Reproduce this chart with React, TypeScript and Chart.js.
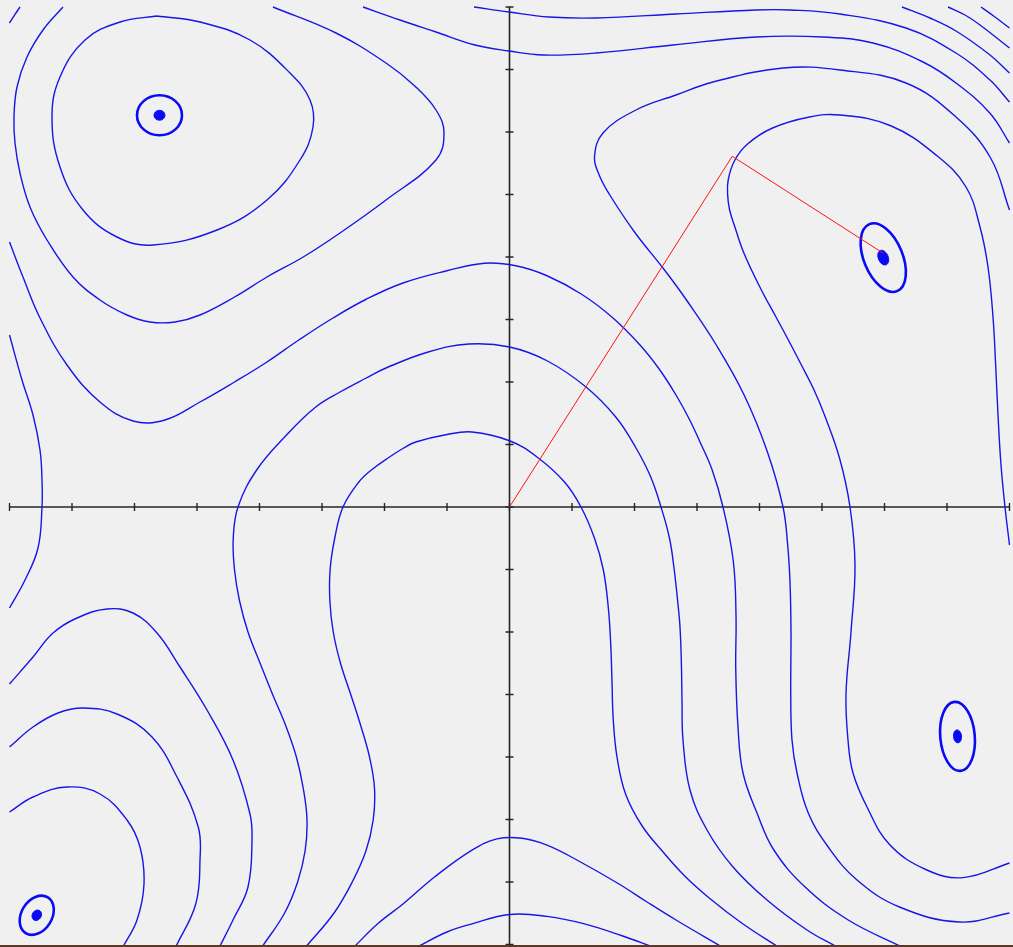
import React, { useEffect, useRef } from "react";
import { Chart, registerables } from "chart.js";

Chart.register(...registerables);

// ---- plot window (data units) ----
const X_RANGE = [-4.076, 4.028];
const Y_RANGE = [-3.52, 4.056];
const X_AXIS_SPAN = [-4, 4];
const Y_AXIS_SPAN = [-3.52, 4];
const X_TICKS = [-4, -3.5, -3, -2.5, -2, -1.5, -1, -0.5, 0, 0.5, 1, 1.5, 2, 2.5, 3, 3.5, 4];
const Y_TICKS = [-3.5, -3, -2.5, -2, -1.5, -1, -0.5, 0, 0.5, 1, 1.5, 2, 2.5, 3, 3.5, 4];

type Pt = [number, number];

// ---- contour pieces ----
const level31TopLeft: Pt[] = [[-2.82,3.928],[-2.476,3.88],[-2.076,3.736],[-1.756,3.472],[-1.596,3.256],[-1.572,3.04],[-1.676,2.776],[-1.94,2.456],[-2.34,2.216],[-2.852,2.096],[-3.14,2.16],[-3.412,2.376],[-3.596,2.72],[-3.66,3.12],[-3.596,3.44],[-3.396,3.736],[-3.116,3.88],[-2.82,3.928]];
const level31Right: Pt[] = [[4.0,-0.304],[3.964,0],[3.932,0.336],[3.908,0.736],[3.89,1.12],[3.868,1.52],[3.828,1.92],[3.764,2.24],[3.652,2.56],[3.42,2.81],[3.05,3.05],[2.644,3.136],[2.4,3.12],[2.1,3.03],[1.9,2.9],[1.8,2.77],[1.75,2.62],[1.745,2.5],[1.76,2.38],[1.8,2.25],[1.875,2.032],[2.015,1.736],[2.132,1.52],[2.25,1.3],[2.335,1.136],[2.43,0.95],[2.52,0.736],[2.64,0.392],[2.724,0],[2.764,-0.464],[2.732,-1.0],[2.692,-1.496],[2.708,-1.864],[2.748,-2.128],[2.86,-2.4],[3.04,-2.7],[3.33,-2.9],[3.628,-2.965],[4.0,-2.848]];
const level31BottomLeft: Pt[] = [[-4.0,-2.44],[-3.812,-2.32],[-3.54,-2.24],[-3.276,-2.296],[-3.06,-2.504],[-2.956,-2.72],[-2.924,-3.016],[-2.98,-3.304],[-3.092,-3.52]];

const level62TopLeft: Pt[] = [[-3.572,4.0],[-3.732,3.816],[-3.86,3.6],[-3.94,3.36],[-3.964,3.12],[-3.956,2.912],[-3.916,2.672],[-3.836,2.4],[-3.7,2.136],[-3.492,1.84],[-3.276,1.656],[-3.06,1.536],[-2.876,1.48],[-2.676,1.48],[-2.476,1.536],[-2.2,1.68],[-1.94,1.84],[-1.65,2.0],[-1.356,2.192],[-0.988,2.456],[-0.588,2.776],[-0.524,2.992],[-0.588,3.176],[-0.76,3.37],[-0.988,3.552],[-1.388,3.792],[-1.892,4.0]];
const level62Right: Pt[] = [[4.0,2.376],[3.85,2.79],[3.572,3.12],[3.172,3.392],[2.644,3.496],[2.188,3.512],[1.628,3.4],[1.332,3.296],[1.012,3.176],[0.748,2.992],[0.68,2.8],[0.72,2.65],[0.8,2.5],[1.0,2.2],[1.237,1.9],[1.42,1.65],[1.652,1.3],[1.875,0.9],[2.06,0.45],[2.188,0],[2.225,-0.3],[2.244,-0.6],[2.252,-1.0],[2.25,-1.5],[2.26,-1.864],[2.3,-2.128],[2.39,-2.448],[2.55,-2.72],[2.78,-2.984],[3.12,-3.2],[3.6,-3.32],[4.0,-3.248]];
const level62BottomLeft: Pt[] = [[-4.0,-1.92],[-3.812,-1.76],[-3.612,-1.648],[-3.412,-1.608],[-3.14,-1.656],[-2.86,-1.84],[-2.66,-2.16],[-2.49,-2.56],[-2.476,-2.824],[-2.51,-3.176],[-2.67,-3.52]];

const level93TopLeftCorner: Pt[] = [[-3.916,4.0],[-3.96,3.935],[-4.0,3.872]];
const level93Main: Pt[] = [[-4.0,2.12],[-3.892,1.84],[-3.756,1.512],[-3.54,1.136],[-3.276,0.84],[-3.012,0.688],[-2.756,0.696],[-2.476,0.84],[-2.2,1.0],[-1.94,1.16],[-1.68,1.34],[-1.412,1.512],[-1.15,1.66],[-0.852,1.792],[-0.5,1.89],[-0.2,1.95],[0.05,1.93],[0.3,1.85],[0.58,1.7],[0.828,1.512],[1.044,1.296],[1.2,1.1],[1.332,0.896],[1.44,0.7],[1.524,0.52],[1.62,0.3],[1.708,0],[1.79,-0.43],[1.812,-0.864],[1.81,-1.3],[1.828,-1.76],[1.868,-2.128],[1.98,-2.448],[2.115,-2.744],[2.365,-3.04],[2.71,-3.304],[3.14,-3.52]];
const level93BottomLeft: Pt[] = [[-4.0,-1.416],[-3.812,-1.2],[-3.652,-1.008],[-3.46,-0.888],[-3.22,-0.816],[-3.012,-0.848],[-2.82,-1.008],[-2.636,-1.28],[-2.42,-1.624],[-2.212,-2.024],[-2.076,-2.456],[-2.06,-2.664],[-2.092,-3.04],[-2.212,-3.304],[-2.32,-3.52]];
const level93Top: Pt[] = [[-1.172,4.0],[-0.876,3.896],[-0.588,3.8],[-0.276,3.696],[-0.004,3.648],[0.268,3.616],[0.692,3.632],[1.308,3.696],[1.972,3.76],[2.508,3.76],[2.908,3.712],[3.308,3.56],[3.572,3.392],[3.844,3.15],[4.0,2.912]];

const level124LeftEdge: Pt[] = [[-4.0,1.376],[-3.9,1.016],[-3.812,0.736],[-3.756,0.456],[-3.74,0.216],[-3.74,0],[-3.772,-0.328],[-3.876,-0.584],[-4.0,-0.808]];
const level124Main: Pt[] = [[-1.98,-3.52],[-1.8,-3.25],[-1.695,-3.0],[-1.635,-2.75],[-1.62,-2.5],[-1.65,-2.25],[-1.705,-2.0],[-1.79,-1.75],[-1.895,-1.5],[-1.995,-1.25],[-2.092,-1.0],[-2.16,-0.75],[-2.2,-0.5],[-2.21,-0.25],[-2.172,0],[-2.02,0.3],[-1.78,0.58],[-1.55,0.8],[-1.356,0.92],[-1.15,1.03],[-0.988,1.112],[-0.65,1.24],[-0.324,1.304],[0,1.28],[0.3,1.17],[0.612,0.96],[0.85,0.72],[1.012,0.472],[1.13,0.24],[1.212,0],[1.28,-0.25],[1.316,-0.488],[1.345,-0.75],[1.364,-0.96],[1.375,-1.25],[1.38,-1.55],[1.388,-1.864],[1.444,-2.264],[1.58,-2.584],[1.788,-2.88],[2.06,-3.144],[2.38,-3.384],[2.62,-3.52]];
const level124Top: Pt[] = [[-0.284,4.0],[-0.004,3.96],[0.316,3.92],[0.692,3.912],[1.332,3.944],[1.972,3.976],[2.244,3.976],[2.644,3.944],[3.172,3.832],[3.572,3.632],[3.844,3.416],[4.0,3.24]];

const level155Main: Pt[] = [[-1.63,-3.52],[-1.405,-3.25],[-1.258,-3.0],[-1.148,-2.75],[-1.09,-2.5],[-1.08,-2.25],[-1.12,-2.0],[-1.19,-1.75],[-1.27,-1.5],[-1.352,-1.25],[-1.41,-1.0],[-1.437,-0.75],[-1.435,-0.5],[-1.398,-0.25],[-1.332,0],[-1.205,0.2],[-1.1,0.3],[-0.96,0.4],[-0.85,0.47],[-0.75,0.52],[-0.5,0.58],[-0.3,0.6],[0,0.53],[0.22,0.4],[0.44,0.2],[0.572,0],[0.68,-0.25],[0.75,-0.5],[0.79,-0.8],[0.81,-1.1],[0.82,-1.4],[0.83,-1.7],[0.86,-2.0],[0.93,-2.3],[1.06,-2.55],[1.22,-2.75],[1.4,-2.95],[1.6,-3.13],[1.86,-3.33],[2.15,-3.52]];
const level155TopRight: Pt[] = [[3.14,4.0],[3.364,3.912],[3.572,3.808],[3.844,3.616],[4.0,3.472]];

const level186Bottom: Pt[] = [[-1.244,-3.52],[-1.05,-3.33],[-0.852,-3.176],[-0.6,-2.96],[-0.3,-2.745],[-0.1,-2.655],[0.1,-2.65],[0.3,-2.705],[0.55,-2.83],[0.876,-3.016],[1.1,-3.16],[1.332,-3.304],[1.7,-3.52]];
const level186TopRight: Pt[] = [[3.508,4.0],[3.644,3.936],[3.764,3.856],[4.0,3.672]];

const level217Bottom: Pt[] = [[-0.74,-3.52],[-0.5,-3.4],[-0.3,-3.335],[0,-3.26],[0.3,-3.275],[0.6,-3.335],[0.9,-3.43],[1.15,-3.52]];
const level217TopRight: Pt[] = [[3.772,4.0],[3.884,3.92],[4.0,3.832]];

const contourPieces: Pt[][] = [
  level31TopLeft, level31Right, level31BottomLeft,
  level62TopLeft, level62Right, level62BottomLeft,
  level93TopLeftCorner, level93Main, level93BottomLeft, level93Top,
  level124LeftEdge, level124Main, level124Top,
  level155Main, level155TopRight,
  level186Bottom, level186TopRight,
  level217Bottom, level217TopRight,
];

// ---- minima rings and dots ----
const minimaX = [-2.8, 2.99, 3.584, -3.782];
const minimaY = [3.134, 1.995, -1.835, -3.266];
const ringA = [0.18, 0.29, 0.277, 0.168];
const ringB = [0.16, 0.155, 0.138, 0.122];
const ringAngle = [0, 67.5, 85, -58];
const dotA = [0.044, 0.062, 0.052, 0.044];
const dotB = [0.04, 0.04, 0.032, 0.036];

// ---- descent path (red) ----
const pathX = [0, 1.782, 2.99];
const pathY = [0, 2.806, 2.03];

const BLUE = "rgb(22,22,230)";

export default function App() {
  const ref = useRef<HTMLCanvasElement | null>(null);

  useEffect(() => {
    const canvas = ref.current;
    if (!canvas) return;

    const datasets: any[] = contourPieces.map((piece) => ({
      data: piece.map(([x, y]) => ({ x, y })),
      showLine: true,
      borderColor: BLUE,
      borderWidth: 1.4,
      pointRadius: 0,
      tension: 0.4,
      fill: false,
      order: 2,
    }));
    datasets.push({
      data: pathX.map((x, i) => ({ x, y: pathY[i] })),
      showLine: true,
      borderColor: "rgb(250,20,20)",
      borderWidth: 1,
      pointRadius: 0,
      tension: 0,
      fill: false,
      order: 0,
    });

    const decor = {
      id: "decor",
      beforeDatasetsDraw(chart: any) {
        const ctx = chart.ctx;
        const xs = chart.scales.x;
        const ys = chart.scales.y;
        const px = (v: number) => xs.getPixelForValue(v);
        const py = (v: number) => ys.getPixelForValue(v);
        ctx.save();
        ctx.strokeStyle = "#262626";
        ctx.lineWidth = 1.6;
        ctx.beginPath();
        ctx.moveTo(px(X_AXIS_SPAN[0]), py(0));
        ctx.lineTo(px(X_AXIS_SPAN[1]), py(0));
        ctx.moveTo(px(0), py(Y_AXIS_SPAN[1]));
        ctx.lineTo(px(0), py(Y_AXIS_SPAN[0]));
        ctx.stroke();
        ctx.lineWidth = 1.4;
        ctx.beginPath();
        X_TICKS.forEach((t) => {
          ctx.moveTo(px(t), py(0) - 4);
          ctx.lineTo(px(t), py(0) + 4);
        });
        Y_TICKS.forEach((t) => {
          ctx.moveTo(px(0) - 4, py(t));
          ctx.lineTo(px(0) + 4, py(t));
        });
        ctx.stroke();
        const sx = px(1) - px(0);
        const sy = py(0) - py(1);
        ctx.strokeStyle = "rgb(10,10,245)";
        ctx.fillStyle = "rgb(10,10,245)";
        minimaX.forEach((mx, i) => {
          const rot = (ringAngle[i] * Math.PI) / 180;
          ctx.lineWidth = 2.6;
          ctx.beginPath();
          ctx.ellipse(px(mx), py(minimaY[i]), ringA[i] * sx, ringB[i] * sy, rot, 0, Math.PI * 2);
          ctx.stroke();
          ctx.lineWidth = 1;
          ctx.beginPath();
          ctx.ellipse(px(mx), py(minimaY[i]), dotA[i] * sx, dotB[i] * sy, rot, 0, Math.PI * 2);
          ctx.fill();
          ctx.stroke();
        });
        ctx.restore();
      },
      afterDraw(chart: any) {
        const ctx = chart.ctx;
        ctx.save();
        ctx.fillStyle = "#5a3a22";
        ctx.fillRect(0, chart.height - 2, chart.width, 2);
        ctx.restore();
      },
    };

    const chart = new Chart(canvas, {
      type: "scatter",
      data: { datasets },
      options: {
        animation: false,
        responsive: false,
        devicePixelRatio: 1,
        events: [],
        layout: { padding: 0 },
        plugins: {
          legend: { display: false },
          tooltip: { enabled: false },
          title: { display: false },
        },
        scales: {
          x: { type: "linear", min: X_RANGE[0], max: X_RANGE[1], display: false },
          y: { type: "linear", min: Y_RANGE[0], max: Y_RANGE[1], display: false },
        },
      } as any,
      plugins: [decor as any],
    });

    return () => chart.destroy();
  }, []);

  return (
    <div
      style={{
        position: "fixed",
        left: 0,
        top: 0,
        width: 1013,
        height: 947,
        background: "#f0f0f0",
        overflow: "hidden",
      }}
    >
      <canvas ref={ref} width={1013} height={947} style={{ display: "block" }} />
    </div>
  );
}
